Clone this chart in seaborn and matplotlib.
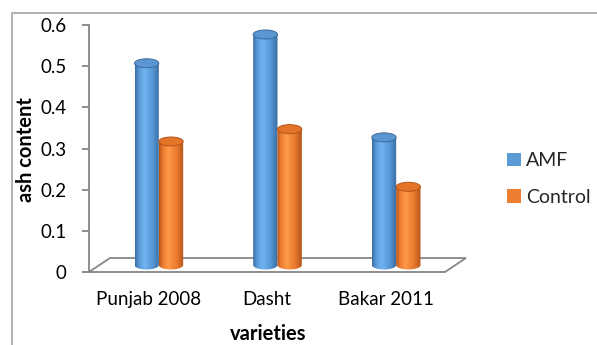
import numpy as np
import pandas as pd
import matplotlib
matplotlib.use("Agg")
import matplotlib.pyplot as plt
import seaborn as sns
from matplotlib.patches import Ellipse, Polygon, Rectangle, Patch
from matplotlib.colors import LinearSegmentedColormap, to_rgba
from matplotlib.transforms import ScaledTranslation

# ---- data -------------------------------------------------------------
varieties = ["Punjab 2008", "Dasht", "Bakar 2011"]
treatments = ["AMF", "Control"]
amf_ash = [0.49, 0.56, 0.31]
control_ash = [0.30, 0.33, 0.19]
y_ticks = [0, 0.1, 0.2, 0.3, 0.4, 0.5, 0.6]

df = pd.DataFrame({
    "variety": varieties * 2,
    "treatment": [treatments[0]] * len(varieties) + [treatments[1]] * len(varieties),
    "ash": amf_ash + control_ash,
})

# ---- style ------------------------------------------------------------
sns.set_theme(style="white")
plt.rcParams["font.family"] = ["Lato", "DejaVu Sans"]
FS = 13.5
FS_BOLD = 14.5
GREY = "#868686"

palette = {"AMF": "#5B9BD5", "Control": "#ED7D31"}
# (dark edge, body, highlight, top face) for the cylinder shading
shading = {
    "AMF": ("#3A6A9C", "#5596D6", "#72B3F0", "#5A97D2"),
    "Control": ("#B4531A", "#EA7A2E", "#FF9A48", "#E37428"),
}

W, H, DPI = 597, 345, 100
fig = plt.figure(figsize=(W / DPI, H / DPI), dpi=DPI)
fig.patch.set_facecolor("white")

# plot area in pixels
left_px, right_px, top_px, bottom_px = 89, 445, 25, 272
ax = fig.add_axes([left_px / W, 1 - bottom_px / H,
                   (right_px - left_px) / W, (bottom_px - top_px) / H])
ax.set_facecolor("none")

sns.barplot(data=df, x="variety", y="ash", hue="treatment",
            order=varieties, hue_order=treatments, palette=palette,
            saturation=1, width=0.41, legend=False, ax=ax, zorder=3)

# ---- pseudo-3D floor --------------------------------------------------
depth_x, depth_y = 21, 14          # floor depth in pixels
aw, ah = right_px - left_px, bottom_px - top_px
dx, dy = depth_x / aw, depth_y / ah
floor = Polygon([(0, 0), (1, 0), (1 + dx, dy), (dx, dy)], closed=True,
                transform=ax.transAxes, facecolor="white", edgecolor=GREY,
                lw=1.3, clip_on=False, zorder=1)
ax.add_patch(floor)

# bars stand in the middle of the floor depth
mid = ScaledTranslation(depth_x / 2 / DPI, depth_y / 2 / DPI, fig.dpi_scale_trans)
bar_trans = ax.transData + mid

ax.set_xlim(-0.5, 2.5)
ax.set_ylim(0, 0.6)
px_per_unit = ah / 0.6
ell_h = 9 / px_per_unit            # ellipse height in data units

# ---- cylinders --------------------------------------------------------
bars = list(ax.patches)
for i, p in enumerate(bars):
    if p is floor:
        continue
    fc = p.get_facecolor()
    key = "AMF" if np.allclose(fc, to_rgba(palette["AMF"])) else "Control"
    dark, body, light, top = shading[key]
    cmap = LinearSegmentedColormap.from_list(
        key, [(0, dark), (0.14, body), (0.38, light), (0.72, body), (1, dark)])
    x, w, h = p.get_x(), p.get_width(), p.get_height()
    p.set_visible(False)
    cx = x + w / 2
    ang = np.linspace(0, -np.pi, 40)
    outline = [(x, h), (x + w, h)] + [(cx + w / 2 * np.cos(a), ell_h / 2 * np.sin(a)) for a in ang]
    clip = Polygon(outline, closed=True, transform=bar_trans)
    z = 3 + i * 0.01
    im = ax.imshow(np.linspace(0, 1, 128)[None, :], cmap=cmap, aspect="auto",
                   extent=(x, x + w, -ell_h / 2, h), interpolation="bilinear",
                   transform=bar_trans, zorder=z)
    im.set_clip_path(clip)
    ax.add_patch(Ellipse((cx, h), w, ell_h, facecolor=top, edgecolor=dark,
                         lw=0.7, transform=bar_trans, zorder=z + 0.005))

ax.set_xlim(-0.5, 2.5)
ax.set_ylim(0, 0.6)

# ---- axes -------------------------------------------------------------
for s in ["top", "right", "bottom"]:
    ax.spines[s].set_visible(False)
ax.spines["left"].set_color(GREY)
ax.spines["left"].set_linewidth(1.3)
ax.set_yticks(y_ticks)
ax.set_yticklabels([f"{t:g}" for t in y_ticks])
ax.tick_params(axis="y", direction="out", length=5, width=1.3, color=GREY,
               pad=11, labelsize=FS, labelcolor="black", left=True)
ax.tick_params(axis="x", length=0, pad=14, labelsize=FS, labelcolor="black")

ax.set_xlabel("varieties", fontsize=FS_BOLD, fontweight="bold", color="black")
ax.set_ylabel("ash content", fontsize=FS_BOLD, fontweight="bold", color="black")
ax.xaxis.set_label_coords((268 - left_px) / aw, (bottom_px - 324) / ah)
ax.yaxis.set_label_coords((36 - left_px) / aw, (bottom_px - 150) / ah)

# ---- legend -----------------------------------------------------------
handles = [Patch(facecolor=palette[t], edgecolor="none") for t in treatments]
fig.legend(handles, treatments, loc="center left",
           bbox_to_anchor=(507 / W, 1 - 179 / H), frameon=False, fontsize=14,
           handlelength=0.72, handleheight=0.72, handletextpad=0.25,
           labelspacing=1.0, borderpad=0, borderaxespad=0)

# chart area border
fig.patches.append(Rectangle((12 / W, -0.1), 1.2, 1.1 - 13 / H, fill=False,
                             edgecolor="#A6A6A6", lw=1.2,
                             transform=fig.transFigure, figure=fig))

fig.savefig("out.png", dpi=DPI)
